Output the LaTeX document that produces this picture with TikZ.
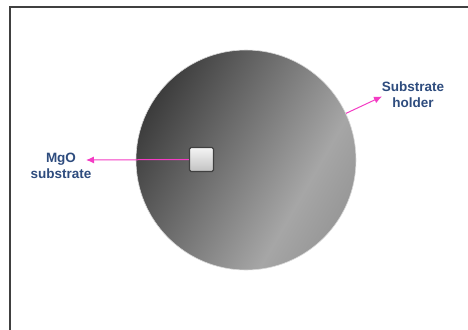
\documentclass[tikz,border=0pt]{standalone}
\usepackage{fontspec}
\setmainfont{Liberation Sans}
\usetikzlibrary{arrows.meta}
\definecolor{framec}{HTML}{404040}
\definecolor{labelc}{HTML}{2E4C7E}
\definecolor{pinkc}{HTML}{F43CC4}
\definecolor{gdark}{HTML}{3C3C3C}
\definecolor{gmid}{HTML}{7E7E7E}
\definecolor{glight}{HTML}{A6A6A6}
\definecolor{gend}{HTML}{989898}
\pgfdeclareverticalshading{holdershade}{100bp}{color(0bp)=(gend); color(25bp)=(gend); color(35bp)=(glight); color(50bp)=(gmid); color(75bp)=(gdark); color(100bp)=(gdark)}
\tikzset{
  lbl/.style={text=labelc, font=\fontsize{13.5}{16}\selectfont\bfseries, align=center, inner sep=0pt},
  pinkarrow/.style={draw=pinkc, line width=1pt, -{Latex[length=8pt,width=7pt]}},
}
\begin{document}
\begin{tikzpicture}[x=1pt,y=-1pt]
\useasboundingbox (0,0) rectangle (468,329);
\fill[white] (0,0) rectangle (468,329);
\draw[line width=2pt, color=framec] (10,340) -- (10,7) -- (480,7);
\node[circle, minimum size=220pt, inner sep=0pt, shading=holdershade, shading angle=60, draw=black!15, line width=0.6pt] (holder) at (246,160) {};
\node[draw=framec, line width=1.2pt, minimum size=24pt, inner sep=0pt, rounded corners=1.5pt, top color=black!4, bottom color=black!24] (mgo) at (201.5,159.5) {};
\node[lbl] (mgolabel) at (61,166) {MgO\\substrate};
\node[lbl] (holderlabel) at (413,95) {Substrate\\holder};
\coordinate (mgotip) at (86,160);
\coordinate (holdertip) at (382,96.5);
\draw[pinkarrow] (mgo.west) -- (mgotip);
\draw[pinkarrow] (holder.25) -- (holdertip);
\end{tikzpicture}
\end{document}
